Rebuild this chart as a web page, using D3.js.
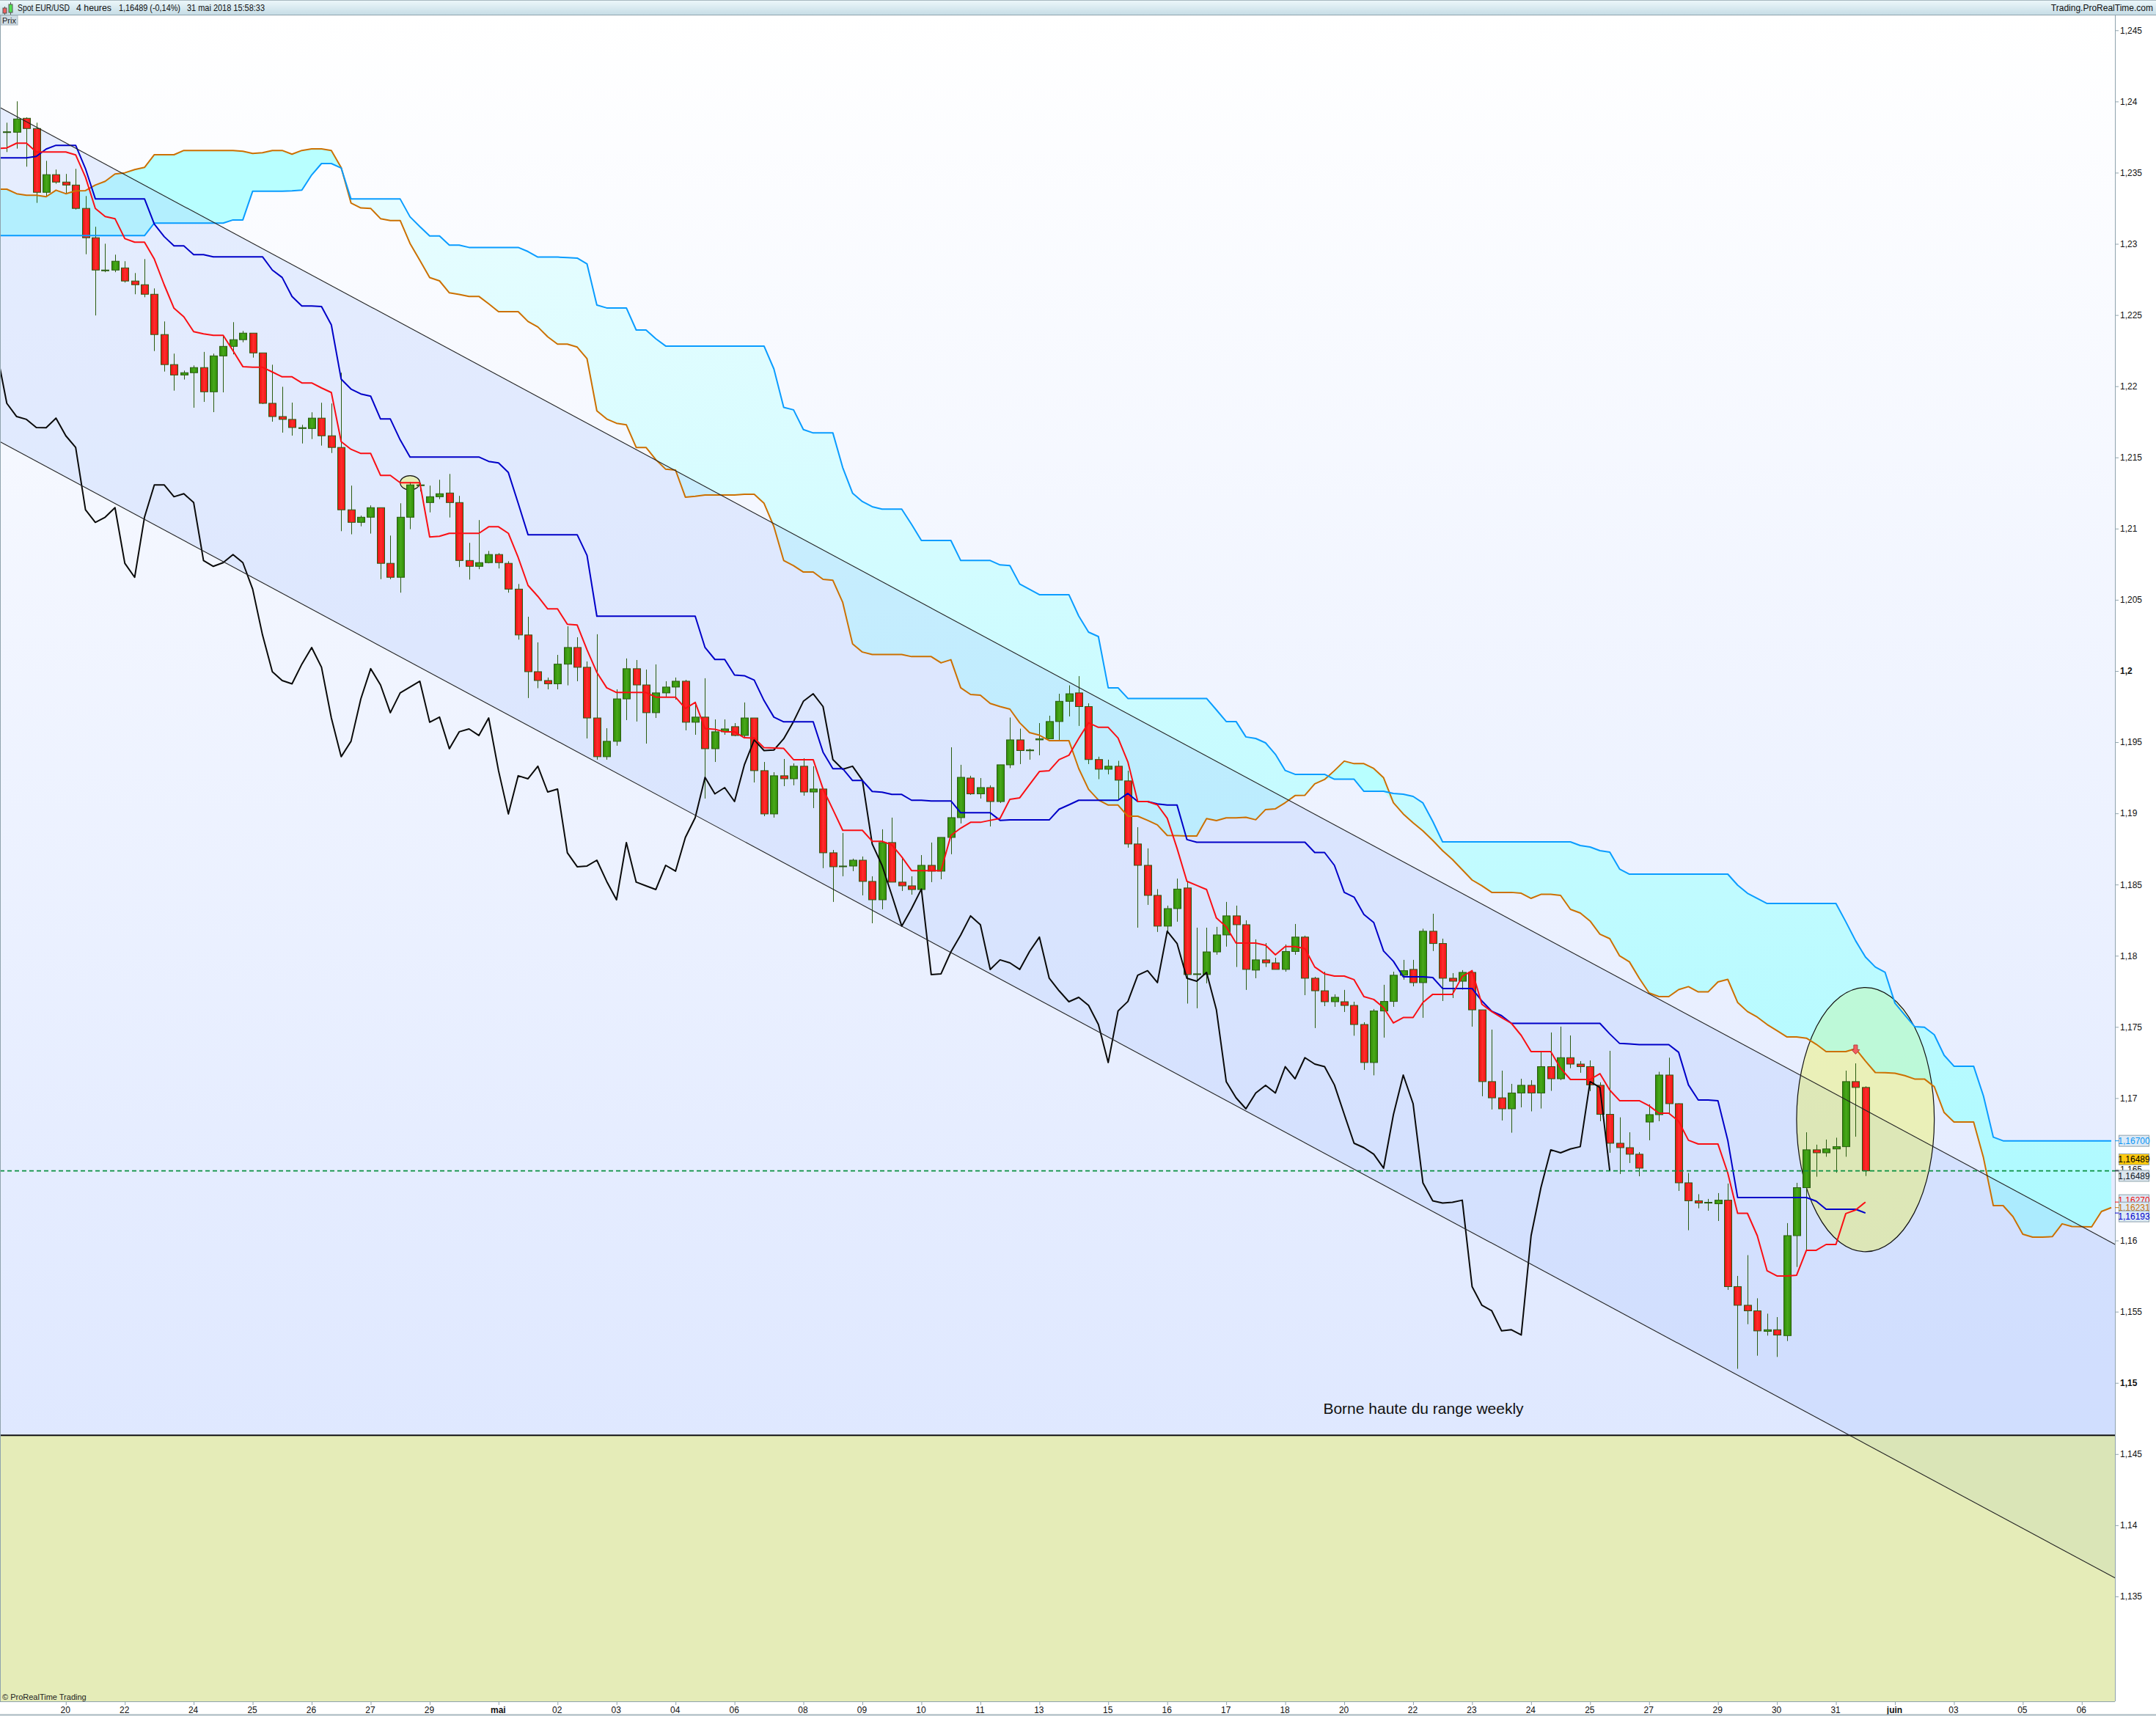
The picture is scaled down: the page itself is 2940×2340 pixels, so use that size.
<!DOCTYPE html>
<html>
<head>
<meta charset="utf-8">
<script src="https://cdn.jsdelivr.net/npm/d3@7"></script>
<style>
  html, body { margin: 0; padding: 0; background: #fff; }
  svg { display: block; font-family: "Liberation Sans", Arial, sans-serif; }
</style>
</head>
<body>
<div id="chart"></div>
<script>
// candles, 4 hour bars, index 0 is the first bar on screen
const open = [
1.23784,1.23784,1.23882,1.23810,1.23362,1.23486,1.23434,1.23413,1.23249,1.23043,
1.22811,1.22816,1.22831,1.22739,1.22713,1.22646,1.22363,1.22152,1.22079,1.22095,
1.22131,1.21961,1.22213,1.22280,1.22327,1.22373,1.22234,1.21880,1.21787,1.21767,
1.21703,1.21703,1.21776,1.21652,1.21570,1.21132,1.21044,1.21080,1.21147,1.20756,
1.20658,1.21080,1.21302,1.21183,1.21224,1.21250,1.21183,1.20776,1.20735,1.20761,
1.20818,1.20756,1.20575,1.20253,1.19995,1.19933,1.19910,1.20048,1.20165,1.20026,
1.19670,1.19398,1.19506,1.19804,1.20016,1.19902,1.19707,1.19846,1.19887,1.19928,
1.19640,1.19676,1.19454,1.19573,1.19609,1.19547,1.19670,1.19300,1.18996,1.19264,
1.19243,1.19331,1.19150,1.19171,1.18723,1.18625,1.18630,1.18671,1.18522,1.18393,
1.18795,1.18517,1.18491,1.18465,1.18635,1.18594,1.18831,1.18970,1.19248,1.19137,
1.19181,1.19083,1.19341,1.19516,1.19441,1.19516,1.19524,1.19645,1.19787,1.19846,
1.19750,1.19378,1.19310,1.19331,1.19228,1.18785,1.18635,1.18424,1.18208,1.18331,
1.18476,1.17868,1.17868,1.18027,1.18146,1.18280,1.18218,1.17899,1.17971,1.17950,
1.17904,1.18030,1.18131,1.17842,1.17754,1.17677,1.17677,1.17651,1.17517,1.17250,
1.17612,1.17679,1.17863,1.17904,1.17811,1.18172,1.18086,1.17842,1.17821,1.17883,
1.17620,1.17116,1.17002,1.16925,1.17036,1.17090,1.17036,1.17221,1.17136,1.17284,
1.17239,1.17221,1.17090,1.16886,1.16683,1.16652,1.16606,1.16832,1.16884,1.17162,
1.16961,1.16405,1.16279,1.16263,1.16258,1.16283,1.15676,1.15545,1.15506,1.15362,
1.15373,1.15332,1.16034,1.16371,1.16637,1.16616,1.16643,1.16659,1.17116,1.17075];
const high = [
1.23851,1.24001,1.23889,1.23851,1.23583,1.23522,1.23491,1.23527,1.23336,1.23120,
1.23001,1.22924,1.22878,1.22795,1.22893,1.22687,1.22455,1.22229,1.22110,1.22146,
1.22241,1.22229,1.22352,1.22450,1.22388,1.22373,1.22234,1.22151,1.21996,1.21885,
1.21729,1.21817,1.21884,1.21879,1.22095,1.21302,1.21091,1.21163,1.21147,1.20951,
1.21178,1.21327,1.21322,1.21302,1.21343,1.21384,1.21230,1.20900,1.21060,1.20843,
1.20828,1.20771,1.20611,1.20381,1.20201,1.19954,1.20113,1.20314,1.20237,1.20067,
1.20258,1.19598,1.19871,1.20088,1.20077,1.20010,1.20046,1.19928,1.19954,1.19938,
1.19784,1.19949,1.19660,1.19660,1.19634,1.19779,1.19670,1.19361,1.19289,1.19382,
1.19351,1.19387,1.19331,1.19171,1.18743,1.18862,1.18682,1.18697,1.18558,1.18888,
1.18970,1.18682,1.18558,1.18707,1.18795,1.18831,1.19464,1.19341,1.19264,1.19248,
1.19197,1.19341,1.19673,1.19595,1.19454,1.19634,1.19686,1.19840,1.19899,1.19964,
1.19773,1.19398,1.19377,1.19369,1.19300,1.18903,1.18754,1.18468,1.18352,1.18542,
1.18522,1.18197,1.18197,1.18203,1.18378,1.18352,1.18249,1.18115,1.18089,1.17986,
1.18079,1.18223,1.18141,1.17852,1.17888,1.17729,1.17760,1.17677,1.17533,1.17626,
1.17796,1.17888,1.17971,1.17971,1.18190,1.18295,1.18120,1.17878,1.17899,1.17899,
1.17620,1.17481,1.17193,1.17100,1.17136,1.17126,1.17322,1.17461,1.17502,1.17440,
1.17260,1.17265,1.17111,1.17332,1.16865,1.16760,1.16621,1.16956,1.17185,1.17284,
1.16964,1.16474,1.16325,1.16292,1.16333,1.16400,1.15751,1.15897,1.15594,1.15486,
1.15462,1.16122,1.16405,1.16760,1.16673,1.16709,1.16722,1.17193,1.17244,1.17083];
const low = [
1.23645,1.23669,1.23542,1.23288,1.23336,1.23422,1.23357,1.23241,1.22927,1.22497,
1.22801,1.22801,1.22728,1.22646,1.22625,1.22247,1.22103,1.21969,1.22047,1.21849,
1.21890,1.21818,1.21957,1.22224,1.22309,1.22201,1.21875,1.21751,1.21674,1.21653,
1.21598,1.21629,1.21583,1.21531,1.20982,1.20960,1.21016,1.20965,1.20645,1.20645,
1.20550,1.20996,1.21261,1.21114,1.21207,1.21078,1.20730,1.20642,1.20715,1.20756,
1.20720,1.20550,1.20220,1.19810,1.19879,1.19871,1.19871,1.19899,1.19928,1.19526,
1.19377,1.19377,1.19475,1.19655,1.19645,1.19490,1.19670,1.19820,1.19799,1.19583,
1.19552,1.19104,1.19361,1.19552,1.19542,1.19531,1.19217,1.18980,1.18970,1.19191,
1.19197,1.19124,1.19037,1.18615,1.18378,1.18558,1.18594,1.18424,1.18228,1.18326,
1.18517,1.18455,1.18429,1.18465,1.18517,1.18537,1.18713,1.18929,1.19130,1.19104,
1.18908,1.19073,1.19318,1.19346,1.19377,1.19408,1.19524,1.19516,1.19681,1.19614,
1.19346,1.19240,1.19274,1.19094,1.18759,1.18197,1.18357,1.18167,1.18167,1.18239,
1.17664,1.17631,1.17806,1.18007,1.18064,1.17921,1.17760,1.17842,1.17921,1.17904,
1.17888,1.18007,1.17723,1.17492,1.17646,1.17641,1.17605,1.17438,1.17198,1.17160,
1.17425,1.17641,1.17832,1.17785,1.17564,1.18033,1.17682,1.17703,1.17762,1.17502,
1.17013,1.16920,1.16843,1.16757,1.16935,1.16907,1.16927,1.17051,1.17126,1.17210,
1.17178,1.17049,1.16838,1.16616,1.16467,1.16544,1.16451,1.16704,1.16838,1.16884,
1.16348,1.16072,1.16226,1.16209,1.16137,1.15653,1.15099,1.15412,1.15191,1.15332,
1.15182,1.15294,1.15814,1.15934,1.16448,1.16588,1.16476,1.16588,1.16729,1.16453];
const close = [
1.23787,1.23877,1.23810,1.23362,1.23486,1.23434,1.23413,1.23249,1.23043,1.22816,
1.22816,1.22878,1.22739,1.22713,1.22646,1.22363,1.22152,1.22079,1.22095,1.22131,
1.21961,1.22213,1.22280,1.22327,1.22373,1.22234,1.21880,1.21787,1.21767,1.21710,
1.21709,1.21776,1.21652,1.21570,1.21132,1.21044,1.21080,1.21147,1.20756,1.20658,
1.21080,1.21307,1.21307,1.21224,1.21245,1.21183,1.20776,1.20735,1.20761,1.20818,
1.20761,1.20575,1.20253,1.19995,1.19933,1.19910,1.20048,1.20165,1.20026,1.19670,
1.19398,1.19506,1.19804,1.20016,1.19902,1.19707,1.19846,1.19887,1.19928,1.19640,
1.19676,1.19454,1.19573,1.19593,1.19547,1.19670,1.19300,1.18996,1.19264,1.19243,
1.19331,1.19150,1.19171,1.18723,1.18625,1.18630,1.18671,1.18522,1.18393,1.18795,
1.18517,1.18491,1.18465,1.18635,1.18594,1.18831,1.18970,1.19253,1.19137,1.19181,
1.19083,1.19341,1.19516,1.19441,1.19445,1.19524,1.19645,1.19787,1.19840,1.19750,
1.19378,1.19310,1.19331,1.19233,1.18785,1.18635,1.18424,1.18208,1.18331,1.18468,
1.17868,1.17873,1.18027,1.18146,1.18280,1.18218,1.17904,1.17971,1.17950,1.17904,
1.18030,1.18131,1.17842,1.17754,1.17677,1.17708,1.17651,1.17517,1.17250,1.17612,
1.17679,1.17863,1.17895,1.17811,1.18172,1.18086,1.17842,1.17821,1.17883,1.17620,
1.17116,1.17002,1.16925,1.17036,1.17090,1.17036,1.17221,1.17136,1.17284,1.17239,
1.17221,1.17093,1.16886,1.16683,1.16652,1.16606,1.16508,1.16884,1.17162,1.16961,
1.16405,1.16279,1.16263,1.16268,1.16283,1.15676,1.15545,1.15506,1.15365,1.15373,
1.15336,1.16034,1.16371,1.16637,1.16616,1.16643,1.16659,1.17116,1.17075,1.16489];

// ichimoku lines, first value sits one bar left of the first candle
const lineStart = -1;
const tenkan = [
1.23669,1.23674,1.23707,1.23707,1.23645,1.23645,1.23645,1.23645,1.23625,1.23468,1.23249,
1.23192,1.23177,1.23037,1.23012,1.23012,1.22893,1.22713,1.22548,1.22488,1.22383,
1.22368,1.22358,1.22358,1.22249,1.22138,1.22133,1.22133,1.22100,1.22066,1.22066,
1.22023,1.22023,1.21988,1.21956,1.21611,1.21557,1.21528,1.21528,1.21374,1.21374,
1.21322,1.21322,1.21322,1.20941,1.20946,1.20967,1.20967,1.20967,1.20967,1.21013,
1.21013,1.20967,1.20797,1.20601,1.20524,1.20436,1.20436,1.20328,1.20323,1.20149,
1.19990,1.19882,1.19849,1.19849,1.19849,1.19849,1.19816,1.19816,1.19816,1.19737,
1.19779,1.19595,1.19590,1.19573,1.19573,1.19531,1.19529,1.19461,1.19459,1.19456,
1.19377,1.19377,1.19377,1.19171,1.19027,1.18881,1.18881,1.18881,1.18804,1.18804,
1.18778,1.18695,1.18598,1.18598,1.18598,1.18598,1.18845,1.18896,1.18937,1.18937,
1.18951,1.18965,1.19099,1.19109,1.19202,1.19294,1.19300,1.19377,1.19408,1.19526,
1.19636,1.19604,1.19604,1.19529,1.19361,1.19083,1.19083,1.19060,1.18965,1.18754,
1.18523,1.18494,1.18465,1.18265,1.18203,1.18089,1.18089,1.18089,1.18074,1.18007,
1.18065,1.18065,1.18050,1.17921,1.17873,1.17857,1.17857,1.17832,1.17713,1.17693,
1.17636,1.17528,1.17566,1.17566,1.17672,1.17729,1.17729,1.17729,1.17854,1.17895,
1.17659,1.17608,1.17566,1.17525,1.17440,1.17327,1.17327,1.17327,1.17210,1.17131,
1.17131,1.17131,1.17172,1.17056,1.16982,1.16982,1.16982,1.16946,1.16894,1.16894,
1.16838,1.16704,1.16678,1.16678,1.16678,1.16474,1.16191,1.16191,1.16034,1.15787,
1.15751,1.15751,1.15756,1.15931,1.15931,1.15972,1.15972,1.16189,1.16214,1.16270];
const kijun = [
1.23604,1.23604,1.23604,1.23604,1.23614,1.23666,1.23692,1.23692,1.23692,1.23528,1.23316,
1.23316,1.23316,1.23316,1.23316,1.23316,1.23138,1.23051,1.22986,1.22986,1.22924,
1.22924,1.22909,1.22909,1.22909,1.22909,1.22909,1.22909,1.22816,1.22764,1.22631,
1.22564,1.22564,1.22560,1.22431,1.22050,1.21980,1.21946,1.21930,1.21770,1.21770,
1.21623,1.21503,1.21503,1.21503,1.21503,1.21503,1.21503,1.21503,1.21503,1.21472,
1.21461,1.21394,1.21178,1.20957,1.20957,1.20957,1.20957,1.20957,1.20957,1.20812,
1.20385,1.20385,1.20385,1.20385,1.20385,1.20385,1.20385,1.20385,1.20385,1.20385,
1.20385,1.20165,1.20081,1.20081,1.19972,1.19967,1.19936,1.19792,1.19676,1.19643,
1.19643,1.19643,1.19643,1.19430,1.19314,1.19314,1.19231,1.19231,1.19154,1.19149,
1.19133,1.19133,1.19092,1.19092,1.19087,1.19087,1.19087,1.19004,1.19004,1.19004,
1.19004,1.18951,1.18954,1.18954,1.18954,1.18954,1.18954,1.19029,1.19060,1.19092,
1.19092,1.19092,1.19092,1.19092,1.19140,1.19083,1.19083,1.19066,1.19058,1.19058,
1.18816,1.18797,1.18797,1.18797,1.18797,1.18797,1.18797,1.18797,1.18797,1.18797,
1.18797,1.18797,1.18797,1.18725,1.18725,1.18635,1.18445,1.18412,1.18290,1.18233,
1.18033,1.17961,1.17852,1.17852,1.17852,1.17847,1.17770,1.17770,1.17770,1.17770,
1.17682,1.17610,1.17579,1.17525,1.17525,1.17525,1.17525,1.17525,1.17525,1.17525,
1.17525,1.17525,1.17525,1.17451,1.17384,1.17381,1.17376,1.17376,1.17376,1.17376,
1.17322,1.17093,1.16987,1.16987,1.16982,1.16704,1.16302,1.16302,1.16302,1.16302,
1.16302,1.16302,1.16302,1.16302,1.16276,1.16219,1.16219,1.16219,1.16219,1.16193];
const senkouA = [
1.23384,1.23384,1.23352,1.23341,1.23341,1.23331,1.23377,1.23352,1.23372,1.23374,1.23413,
1.23439,1.23491,1.23499,1.23522,1.23537,1.23626,1.23626,1.23626,1.23656,1.23656,
1.23656,1.23656,1.23656,1.23656,1.23650,1.23635,1.23640,1.23656,1.23656,1.23630,
1.23656,1.23667,1.23667,1.23655,1.23536,1.23287,1.23252,1.23249,1.23177,1.23164,
1.23164,1.23003,1.22884,1.22763,1.22740,1.22656,1.22645,1.22631,1.22631,1.22579,
1.22524,1.22524,1.22524,1.22455,1.22416,1.22347,1.22296,1.22296,1.22275,1.22193,
1.21827,1.21770,1.21740,1.21729,1.21570,1.21570,1.21484,1.21417,1.21411,1.21221,
1.21227,1.21236,1.21236,1.21236,1.21236,1.21241,1.21241,1.21178,1.21015,1.20776,
1.20740,1.20695,1.20695,1.20644,1.20637,1.20482,1.20191,1.20133,1.20116,1.20116,
1.20116,1.20116,1.20101,1.20101,1.20101,1.20057,1.20079,1.19882,1.19835,1.19830,
1.19772,1.19750,1.19732,1.19636,1.19567,1.19549,1.19511,1.19511,1.19511,1.19315,
1.19169,1.19094,1.19058,1.19058,1.18980,1.18980,1.18951,1.18919,1.18845,1.18843,
1.18841,1.18841,1.18963,1.18949,1.18968,1.18968,1.18972,1.18955,1.19027,1.19032,
1.19075,1.19125,1.19127,1.19207,1.19238,1.19300,1.19367,1.19349,1.19349,1.19315,
1.19250,1.19075,1.18996,1.18934,1.18877,1.18810,1.18738,1.18676,1.18604,1.18532,
1.18491,1.18445,1.18445,1.18445,1.18439,1.18403,1.18431,1.18431,1.18424,1.18326,
1.18300,1.18244,1.18151,1.18120,1.17999,1.17957,1.17842,1.17739,1.17713,1.17713,
1.17762,1.17783,1.17746,1.17746,1.17816,1.17834,1.17672,1.17608,1.17569,1.17517,
1.17474,1.17430,1.17430,1.17421,1.17378,1.17327,1.17327,1.17327,1.17347,1.17260,
1.17180,1.17179,1.17175,1.17158,1.17134,1.17134,1.17080,1.16899,1.16832,1.16832,
1.16832,1.16582,1.16245,1.16245,1.16168,1.16044,1.16024,1.16024,1.16027,1.16117,
1.16098,1.16097,1.16096,1.16204,1.16231];
const senkouB = [
1.23058,1.23058,1.23058,1.23058,1.23058,1.23058,1.23058,1.23058,1.23058,1.23058,1.23058,
1.23058,1.23058,1.23058,1.23058,1.23058,1.23146,1.23146,1.23146,1.23146,1.23146,
1.23146,1.23146,1.23146,1.23168,1.23168,1.23370,1.23370,1.23370,1.23370,1.23372,
1.23377,1.23484,1.23564,1.23564,1.23533,1.23315,1.23315,1.23315,1.23315,1.23315,
1.23315,1.23190,1.23121,1.23055,1.23055,1.22991,1.22991,1.22975,1.22975,1.22975,
1.22975,1.22975,1.22975,1.22946,1.22907,1.22907,1.22907,1.22903,1.22900,1.22859,
1.22570,1.22550,1.22550,1.22550,1.22395,1.22395,1.22333,1.22282,1.22282,1.22282,
1.22282,1.22282,1.22282,1.22282,1.22282,1.22282,1.22282,1.22282,1.22122,1.21852,
1.21834,1.21696,1.21672,1.21672,1.21672,1.21429,1.21249,1.21190,1.21154,1.21137,
1.21137,1.21137,1.21030,1.20917,1.20917,1.20917,1.20917,1.20776,1.20776,1.20776,
1.20776,1.20745,1.20740,1.20611,1.20574,1.20536,1.20536,1.20536,1.20536,1.20386,
1.20273,1.20242,1.19882,1.19882,1.19807,1.19807,1.19807,1.19807,1.19807,1.19807,
1.19807,1.19807,1.19807,1.19727,1.19645,1.19645,1.19537,1.19526,1.19495,1.19415,
1.19301,1.19274,1.19274,1.19274,1.19274,1.19240,1.19240,1.19240,1.19155,1.19155,
1.19155,1.19140,1.19135,1.19119,1.19073,1.18944,1.18800,1.18800,1.18800,1.18800,
1.18800,1.18800,1.18800,1.18800,1.18800,1.18800,1.18800,1.18800,1.18800,1.18800,
1.18774,1.18764,1.18738,1.18728,1.18609,1.18573,1.18573,1.18573,1.18573,1.18573,
1.18573,1.18573,1.18573,1.18573,1.18573,1.18573,1.18496,1.18439,1.18403,1.18367,
1.18367,1.18367,1.18367,1.18367,1.18367,1.18367,1.18367,1.18239,1.18105,1.17991,
1.17921,1.17883,1.17667,1.17584,1.17502,1.17498,1.17445,1.17301,1.17224,1.17224,
1.17224,1.17015,1.16726,1.16700,1.16700,1.16700,1.16700,1.16700,1.16700,1.16700,
1.16700,1.16700,1.16700,1.16700,1.16700];
// lagging line: the closes themselves, moved back 26 bars
const chikouShift = 26;
const chikou = close.slice(lineStart + chikouShift);

const priceTicks = [1.245,1.24,1.235,1.23,1.225,1.22,1.215,1.21,1.205,1.2,1.195,1.19,1.185,1.18,1.175,1.17,1.165,1.16,1.155,1.15,1.145,1.14,1.135];
const priceLabels = ["1,245","1,24","1,235","1,23","1,225","1,22","1,215","1,21","1,205","1,2","1,195","1,19","1,185","1,18","1,175","1,17","1,165","1,16","1,155","1,15","1,145","1,14","1,135"];
const boldPrices = ["1,2","1,15"];

const dateTicks = [6,12,19,25,31,37,43,50,56,62,68,74,81,87,93,99,105,112,118,124,130,136,143,149,155,161,167,174,180,186,192,198,205,211];
const dateLabels = ["20","22","24","25","26","27","29","mai","02","03","04","06","08","09","10","11","13","15","16","17","18","20","22","23","24","25","27","29","30","31","juin","03","05","06"];
const boldDates = ["mai","juin"];

// drawn studies: channel ends [bar, price]
const channelTop = [[-0.69,1.23957],[214.4,1.15972]];
const channelBottom = [[-0.69,1.21610],[214.4,1.13629]];
const rangeLevel = 1.14631;
const lastPrice = 1.16489;
const priceTagValues = [1.167,1.16489,1.16489,1.1627,1.16231,1.16193];
const priceTagText = ["1,16700","1,16489","1,16489","1,16270","1,16231","1,16193"];
const priceTagColor = ["#0a96f5","#000000","#101828","#f01010","#cc7000","#0000d0"];
const priceTagFill = ["#dce9f5","#ffc90e","#dce6ee","#dce9f5","#dce9f5","#dce9f5"];
const priceTagNudge = [0,-15.7,6.8,-2.5,0,4.5];

const width = 2940;
const height = 2340;
const plotTop = 21;
const plotBottom = 2320;
const plotRight = 2884;

const x = d3.scaleLinear().domain([0, 189]).range([9.3, 9.3 + 189 * 13.41]);
const y = d3.scaleLinear().domain([1.245, 1.135]).range([41.3, 2176.95]);

const svg = d3.select("#chart").append("svg")
    .attr("width", width)
    .attr("height", height);

const defs = svg.append("defs");

function gradient(id, horizontal, stops, user) {
    const g = defs.append("linearGradient").attr("id", id)
        .attr("x1", 0).attr("y1", 0)
        .attr("x2", horizontal ? 1 : 0).attr("y2", horizontal ? 0 : 1);
    if (user) {
        g.attr("gradientUnits", "userSpaceOnUse")
            .attr("x1", 0).attr("x2", 0).attr("y1", user[0]).attr("y2", user[1]);
    }
    stops.forEach(s => g.append("stop").attr("offset", s[0]).attr("stop-color", s[1]));
}
gradient("bg", false, [[0, "#ffffff"], [1, "#dfe8ff"]], [plotTop, 1957]);
gradient("head", false, [[0, "#eef8fb"], [1, "#c6dde6"]]);
gradient("bear", false, [[0, "#e6fdff"], [1, "#aefaff"]], [300, 1650]);
gradient("red", true, [[0, "#e41010"], [0.5, "#ff2c2c"], [1, "#ee1414"]]);
gradient("green", true, [[0, "#2f8c08"], [0.5, "#48a81a"], [1, "#2f8c08"]]);
defs.append("clipPath").attr("id", "plot").append("rect")
    .attr("x", 1).attr("y", plotTop)
    .attr("width", plotRight - 1).attr("height", plotBottom - plotTop);

svg.append("rect").attr("width", width).attr("height", height).attr("fill", "#fff");

const plot = svg.append("g").attr("clip-path", "url(#plot)");
plot.append("rect").attr("x", 0).attr("y", plotTop)
    .attr("width", plotRight).attr("height", plotBottom - plotTop)
    .attr("fill", "url(#bg)");

// cloud, two colours depending on which span is on top
const cloud = senkouA.map((a, i) => ({i: i + lineStart, a: a, b: senkouB[i]}));
const bull = d3.area().x(d => x(d.i))
    .y0(d => y(d.a)).y1(d => y(Math.min(d.a, d.b)));
const bear = d3.area().x(d => x(d.i))
    .y0(d => y(d.b)).y1(d => y(Math.min(d.a, d.b)));
plot.append("path").attr("d", bull(cloud)).attr("fill", "#b8ffff");
plot.append("path").attr("d", bear(cloud)).attr("fill", "url(#bear)");

// channel fill between the two trend lines
const channelPoints = channelTop.concat(channelBottom.slice().reverse());
plot.append("path")
    .attr("d", d3.line().x(d => x(d[0])).y(d => y(d[1]))(channelPoints) + "Z")
    .attr("fill", "rgb(165,190,250)")
    .attr("fill-opacity", 0.25);

// weekly range zone
plot.append("rect")
    .attr("x", 0).attr("y", y(rangeLevel))
    .attr("width", plotRight).attr("height", plotBottom - y(rangeLevel))
    .attr("fill", "rgb(245,248,0)").attr("fill-opacity", 0.28);

// big ellipse around the last candles
const bigEllipse = {cx: x(189), cy: y(1.16849), rx: x(7) - x(0), ry: y(1.15921) - y(1.16849)};
plot.append("ellipse")
    .attr("cx", bigEllipse.cx).attr("cy", bigEllipse.cy)
    .attr("rx", bigEllipse.rx).attr("ry", bigEllipse.ry)
    .attr("fill", "rgb(245,248,0)").attr("fill-opacity", 0.28);
// inside the ellipse the cloud shows through, mint instead of green
defs.append("clipPath").attr("id", "inEllipse").append("ellipse")
    .attr("cx", bigEllipse.cx).attr("cy", bigEllipse.cy)
    .attr("rx", bigEllipse.rx).attr("ry", bigEllipse.ry);
plot.append("path").attr("d", bear(cloud))
    .attr("clip-path", "url(#inEllipse)")
    .attr("fill", "#b0f8ff").attr("fill-opacity", 0.45);
plot.append("ellipse")
    .attr("cx", bigEllipse.cx).attr("cy", bigEllipse.cy)
    .attr("rx", bigEllipse.rx).attr("ry", bigEllipse.ry)
    .attr("fill", "none")
    .attr("stroke", "#111").attr("stroke-width", 1.2);

// small ellipse on the top of 28 april
plot.append("ellipse")
    .attr("cx", x(41)).attr("cy", y(1.21322))
    .attr("rx", 13.4).attr("ry", y(1.21272) - y(1.21322))
    .attr("fill", "rgb(245,248,0)").attr("fill-opacity", 0.28)
    .attr("stroke", "#111").attr("stroke-width", 1.2);

// candles
const bars = close.map((c, i) => ({i: i, o: open[i], h: high[i], l: low[i], c: c}));
const candle = plot.append("g").selectAll("g").data(bars).join("g");
candle.append("line")
    .attr("x1", d => Math.round(x(d.i)) + 0.5).attr("x2", d => Math.round(x(d.i)) + 0.5)
    .attr("y1", d => y(d.h)).attr("y2", d => y(d.l))
    .attr("stroke", "#2a5c10").attr("stroke-width", 1);
candle.append("rect")
    .attr("x", d => Math.round(x(d.i)) - 4.5)
    .attr("width", 10)
    .attr("y", d => y(Math.max(d.o, d.c)))
    .attr("height", d => Math.max(1, y(Math.min(d.o, d.c)) - y(Math.max(d.o, d.c))))
    .attr("fill", d => d.c >= d.o ? "url(#green)" : "url(#red)")
    .attr("stroke", "#2a5c10").attr("stroke-width", 1);

// ichimoku lines
const indicator = d3.line().x(d => x(d.i)).y(d => y(d.v));
function drawLine(values, colour) {
    plot.append("path")
        .attr("d", indicator(values.map((v, i) => ({i: i + lineStart, v: v}))))
        .attr("fill", "none")
        .attr("stroke", colour)
        .attr("stroke-width", 2)
        .attr("stroke-linejoin", "round");
}
drawLine(senkouA, "#cc7000");
drawLine(senkouB, "#0a9cff");
drawLine(chikou, "#0a0a0a");
drawLine(kijun, "#0000c8");
drawLine(tenkan, "#fa0f14");

// trend lines and range line
const trend = d3.line().x(d => x(d[0])).y(d => y(d[1]));
[channelTop, channelBottom].forEach(pts => {
    plot.append("path").attr("d", trend(pts))
        .attr("stroke", "#222").attr("stroke-width", 1.1).attr("fill", "none");
});
plot.append("line")
    .attr("x1", 0).attr("x2", plotRight)
    .attr("y1", y(rangeLevel)).attr("y2", y(rangeLevel))
    .attr("stroke", "#111").attr("stroke-width", 2);
plot.append("line")
    .attr("x1", 0).attr("x2", plotRight)
    .attr("y1", y(lastPrice)).attr("y2", y(lastPrice))
    .attr("stroke", "#0a9040").attr("stroke-width", 1.6)
    .attr("stroke-dasharray", "6,4");

// sell arrow above the bar before last
const ax = x(188);
const ay0 = y(1.17373);
const ay1 = y(1.17340);
const ay2 = y(1.17309);
plot.append("path")
    .attr("d", `M${ax - 2.5},${ay0}H${ax + 2.5}V${ay1}H${ax + 5.5}L${ax},${ay2}L${ax - 5.5},${ay1}H${ax - 2.5}Z`)
    .attr("fill", "#f26060").attr("stroke", "#b83c3c").attr("stroke-width", 1);

svg.append("text")
    .attr("x", 1941).attr("y", 1928)
    .attr("text-anchor", "middle")
    .attr("font-size", 21)
    .attr("fill", "#111")
    .text("Borne haute du range weekly");

svg.append("text")
    .attr("x", 3).attr("y", 2318)
    .attr("font-size", 11)
    .attr("fill", "#222")
    .text("© ProRealTime Trading");

// price axis
const labelOf = d3.scaleOrdinal().domain(priceTicks).range(priceLabels);
const yAxis = svg.append("g")
    .attr("transform", `translate(${plotRight},0)`)
    .call(d3.axisRight(y).tickValues(priceTicks).tickSize(5).tickPadding(2).tickFormat(labelOf));
yAxis.select(".domain").remove();
yAxis.selectAll("line").attr("stroke", "#8fa3ad");
yAxis.selectAll("text")
    .attr("font-family", "Liberation Sans")
    .attr("font-size", 12)
    .attr("fill", "#111")
    .attr("font-weight", d => boldPrices.includes(labelOf(d)) ? "bold" : "normal");
svg.append("line")
    .attr("x1", plotRight + 0.5).attr("x2", plotRight + 0.5)
    .attr("y1", plotTop).attr("y2", plotBottom)
    .attr("stroke", "#8fa3ad");

// date axis
const dateOf = d3.scaleOrdinal().domain(dateTicks).range(dateLabels);
const xAxis = svg.append("g")
    .attr("transform", `translate(0,${plotBottom})`)
    .call(d3.axisBottom(x).tickValues(dateTicks).tickSize(5).tickPadding(2).tickFormat(dateOf));
xAxis.select(".domain").remove();
xAxis.selectAll("line").attr("stroke", "#8fa3ad");
xAxis.selectAll("text")
    .attr("font-family", "Liberation Sans")
    .attr("font-size", 12)
    .attr("fill", "#111")
    .attr("dx", -1)
    .attr("font-weight", d => boldDates.includes(dateOf(d)) ? "bold" : "normal");
svg.append("line")
    .attr("x1", 0).attr("x2", plotRight)
    .attr("y1", plotBottom + 0.5).attr("y2", plotBottom + 0.5)
    .attr("stroke", "#8fa3ad");
svg.append("line")
    .attr("x1", 0).attr("x2", width)
    .attr("y1", height - 1.5).attr("y2", height - 1.5)
    .attr("stroke", "#a8b8c0").attr("stroke-width", 2);
svg.append("line")
    .attr("x1", 0.5).attr("x2", 0.5)
    .attr("y1", plotTop).attr("y2", plotBottom)
    .attr("stroke", "#8fa3ad");

// value tags on the right
const tags = svg.append("g").selectAll("g")
    .data(priceTagValues.map((v, i) => ({v: v, i: i})))
    .join("g");
tags.append("line")
    .attr("x1", plotRight).attr("x2", plotRight + 5)
    .attr("y1", d => y(d.v)).attr("y2", d => y(d.v))
    .attr("stroke", d => priceTagColor[d.i]);
tags.append("rect")
    .attr("x", plotRight + 5.5)
    .attr("y", d => y(d.v) + priceTagNudge[d.i] - 7.5)
    .attr("width", 41).attr("height", 15)
    .attr("fill", d => priceTagFill[d.i])
    .attr("stroke", "#8fa3ad");
tags.append("text")
    .attr("x", plotRight + 26)
    .attr("y", d => y(d.v) + priceTagNudge[d.i] + 4.5)
    .attr("text-anchor", "middle")
    .attr("font-size", 12)
    .attr("fill", d => priceTagColor[d.i])
    .text(d => priceTagText[d.i]);

// title bar
svg.append("rect").attr("width", width).attr("height", 20).attr("fill", "url(#head)");
svg.append("line").attr("x1", 0).attr("x2", width).attr("y1", 20.5).attr("y2", 20.5).attr("stroke", "#8fa3ad");
svg.append("line").attr("x1", 0).attr("x2", width).attr("y1", 0.5).attr("y2", 0.5).attr("stroke", "#a8b8c0");
const headerText = ["Spot EUR/USD", "4 heures", "1,16489 (-0,14%)", "31 mai 2018 15:58:33"];
const headerX = [24, 104, 162, 255];
const headerLength = [71, 48, 84, 106];
svg.append("g").selectAll("text").data(headerText).join("text")
    .attr("x", (d, i) => headerX[i]).attr("y", 15)
    .attr("font-size", 12)
    .attr("textLength", (d, i) => headerLength[i])
    .attr("lengthAdjust", "spacingAndGlyphs")
    .attr("fill", "#111")
    .text(d => d);
svg.append("text")
    .attr("x", 2936).attr("y", 15)
    .attr("text-anchor", "end")
    .attr("font-size", 12)
    .attr("fill", "#111")
    .text("Trading.ProRealTime.com");

// little candle logo
svg.append("line").attr("x1", 6.5).attr("x2", 6.5).attr("y1", 9).attr("y2", 20).attr("stroke", "#555");
svg.append("rect").attr("x", 4).attr("y", 11).attr("width", 5).attr("height", 7).attr("fill", "#f06060").attr("stroke", "#555");
svg.append("line").attr("x1", 14.5).attr("x2", 14.5).attr("y1", 3).attr("y2", 20).attr("stroke", "#555");
svg.append("rect").attr("x", 12).attr("y", 6).attr("width", 5).attr("height", 11).attr("fill", "#50e050").attr("stroke", "#555");

// Prix tab
svg.append("rect").attr("x", 1).attr("y", 21).attr("width", 23).attr("height", 13)
    .attr("fill", "#d0dde5").attr("stroke", "#a8b8c0");
svg.append("text").attr("x", 3).attr("y", 31.5).attr("font-size", 11).attr("fill", "#222").text("Prix");
</script>
</body>
</html>
